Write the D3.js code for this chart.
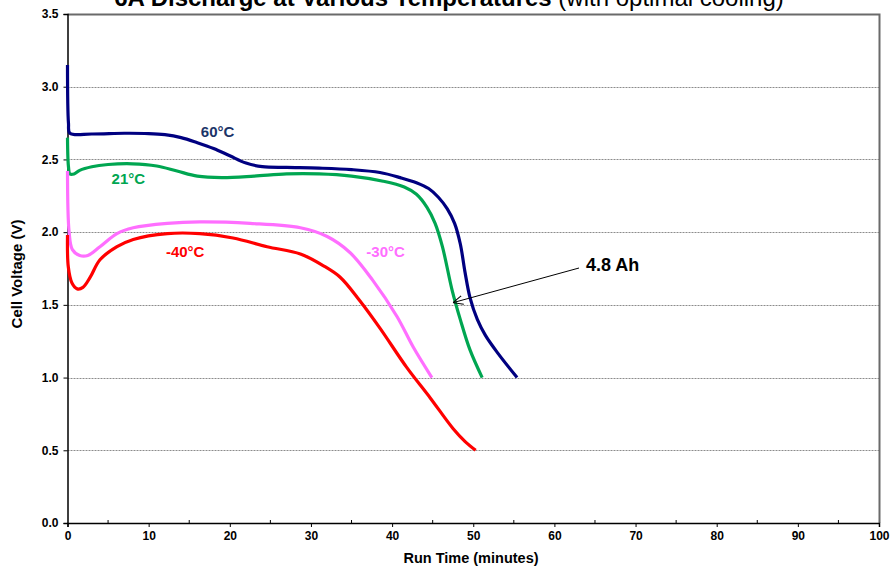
<!DOCTYPE html>
<html>
<head>
<meta charset="utf-8">
<script src="https://cdn.jsdelivr.net/npm/d3@7"></script>
<style>
  body { margin: 0; background: #fff; }
  svg { font-family: Arial, "Liberation Sans", sans-serif; }
</style>
</head>
<body>
<div id="chart"></div>
<script>
var width = 891,
    height = 571;

// run time (minutes) and cell voltage (V) for each temperature
var t60  = [0, 0.12, 0.3, 3, 7, 10, 12, 14, 16, 18, 20, 22, 24, 27, 31, 35, 38.5, 41, 43, 44.5, 45.7, 46.8, 47.7, 48.4, 49, 49.6, 50.5, 51.5, 53, 55.4];
var v60  = [3.15, 2.75, 2.68, 2.675, 2.68, 2.678, 2.67, 2.65, 2.615, 2.575, 2.525, 2.475, 2.45, 2.445, 2.44, 2.43, 2.41, 2.375, 2.34, 2.30, 2.24, 2.16, 2.06, 1.92, 1.72, 1.55, 1.40, 1.29, 1.17, 1.0];

var t21  = [0, 0.12, 0.3, 0.8, 1.5, 3, 5, 8, 11, 13.5, 16, 19, 23, 27, 31, 35, 38.9, 41.5, 43, 44.3, 45.3, 46.2, 47.4, 48.4, 49.6, 51.1];
var v21  = [2.65, 2.45, 2.40, 2.40, 2.425, 2.45, 2.465, 2.47, 2.455, 2.42, 2.385, 2.375, 2.385, 2.40, 2.40, 2.385, 2.35, 2.31, 2.26, 2.17, 2.06, 1.90, 1.60, 1.40, 1.19, 1.0];

var tm30 = [0, 0.2, 0.6, 1.5, 2.5, 4, 6.1, 8.1, 12.3, 16.3, 22.5, 28.7, 32, 34.8, 37.6, 40.6, 42.6, 44.9];
var vm30 = [2.42, 2.0, 1.88, 1.84, 1.84, 1.90, 1.99, 2.03, 2.06, 2.07, 2.06, 2.03, 1.97, 1.86, 1.67, 1.42, 1.21, 1.0];

var tm40 = [0, 0.1, 0.55, 1.2, 1.9, 2.8, 4, 6.1, 8.1, 12.3, 16.3, 20.4, 24.6, 28.7, 31.5, 33.6, 36, 38.5, 41.8, 44.7, 47.5, 49, 50.3];
var vm40 = [1.98, 1.76, 1.65, 1.61, 1.62, 1.69, 1.81, 1.90, 1.95, 1.99, 1.99, 1.96, 1.90, 1.85, 1.77, 1.69, 1.53, 1.34, 1.07, 0.86, 0.65, 0.56, 0.50];

var seriesNames = ["60°C", "21°C", "-30°C", "-40°C"];
var xTicks = [0, 10, 20, 30, 40, 50, 60, 70, 80, 90, 100];
var yTicks = [0, 0.5, 1.0, 1.5, 2.0, 2.5, 3.0, 3.5];

var series = [
  { name: seriesNames[0], t: t60,  v: v60,  color: "#000080", label: "#1b3468", lx: 18.5, ly: 2.655 },
  { name: seriesNames[1], t: t21,  v: v21,  color: "#00a651", label: "#00a651", lx: 7.5,  ly: 2.33 },
  { name: seriesNames[2], t: tm30, v: vm30, color: "#ff6eff", label: "#ff6eff", lx: 39.2, ly: 1.83 },
  { name: seriesNames[3], t: tm40, v: vm40, color: "#ff0000", label: "#ff0000", lx: 14.5, ly: 1.83 }
];

var margin = { left: 67.5, right: 12, top: 14, bottom: 48 };

var x = d3.scaleLinear().domain([0, 100]).range([margin.left, width - margin.right]);
var y = d3.scaleLinear().domain([0, 3.5]).range([height - margin.bottom, margin.top]);

var svg = d3.select("#chart").append("svg")
    .attr("width", width)
    .attr("height", height);

svg.append("defs").append("marker")
    .attr("id", "arrow")
    .attr("viewBox", "0 0 10 10")
    .attr("refX", 10).attr("refY", 5)
    .attr("markerWidth", 10).attr("markerHeight", 10)
    .attr("markerUnits", "userSpaceOnUse")
    .attr("orient", "auto")
  .append("path")
    .attr("d", "M0,0.5 L10,5 L0,9.5")
    .attr("fill", "none")
    .attr("stroke", "#000")
    .attr("stroke-width", 1);

// gridlines
svg.append("g").selectAll("line")
    .data(yTicks.slice(1, -1))
  .enter().append("line")
    .attr("x1", x(0)).attr("x2", x(100))
    .attr("y1", function(d) { return Math.round(y(d)) + 0.5; })
    .attr("y2", function(d) { return Math.round(y(d)) + 0.5; })
    .attr("stroke", "#8c8c8c")
    .attr("stroke-dasharray", "2,1");

// top and right border
svg.append("path")
    .attr("d", "M" + x(0) + "," + (y(3.5) + 0.5) + "H" + (x(100) + 0.5) + "V" + y(0))
    .attr("fill", "none")
    .attr("stroke", "#6a6a6a")
    .attr("stroke-width", 2);

// x axis
var xAxis = svg.append("g")
    .attr("transform", "translate(0," + y(0) + ")");
xAxis.selectAll(".minor")
    .data(d3.range(5, 100, 10))
  .enter().append("line")
    .attr("x1", function(d) { return x(d); }).attr("x2", function(d) { return x(d); })
    .attr("y1", -3).attr("y2", 0)
    .attr("stroke", "#000");
xAxis.call(d3.axisBottom(x).tickValues(xTicks).tickSize(4).tickPadding(4).tickFormat(d3.format("d")));

// y axis
var yAxis = svg.append("g")
    .attr("transform", "translate(" + x(0) + ",0)");
yAxis.call(d3.axisLeft(y).tickValues(yTicks).tickSize(4).tickPadding(5).tickFormat(d3.format(".1f")));

svg.selectAll(".domain").attr("stroke", "#000").attr("stroke-width", 1.5);
svg.selectAll(".tick text")
    .attr("font-size", 12)
    .attr("font-weight", "bold")
    .attr("font-family", "Arial, 'Liberation Sans', sans-serif")
    .attr("fill", "#000");

// curves
var line = d3.line()
    .x(function(d) { return x(d[0]); })
    .y(function(d) { return y(d[1]); })
    .curve(d3.curveCatmullRom.alpha(0.5));

svg.append("g").selectAll("path")
    .data(series)
  .enter().append("path")
    .attr("d", function(s) { return line(d3.zip(s.t, s.v)); })
    .attr("fill", "none")
    .attr("stroke", function(s) { return s.color; })
    .attr("stroke-width", 3.2)
    .attr("stroke-linejoin", "round");

svg.append("g").selectAll("text")
    .data(series)
  .enter().append("text")
    .attr("x", function(s) { return x(s.lx); })
    .attr("y", function(s) { return y(s.ly); })
    .attr("text-anchor", "middle")
    .attr("font-size", 15)
    .attr("font-weight", "bold")
    .attr("fill", function(s) { return s.label; })
    .text(function(s) { return s.name; });

// 4.8 Ah annotation
svg.append("line")
    .attr("x1", 579).attr("y1", 268)
    .attr("x2", x(47.5)).attr("y2", y(1.515))
    .attr("stroke", "#000")
    .attr("stroke-width", 1)
    .attr("marker-end", "url(#arrow)");
svg.append("text")
    .attr("x", 586).attr("y", 271)
    .attr("font-size", 18)
    .attr("font-weight", "bold")
    .text("4.8 Ah");

// axis titles
svg.append("text")
    .attr("transform", "translate(22,274) rotate(-90)")
    .attr("text-anchor", "middle")
    .attr("font-size", 15)
    .attr("font-weight", "bold")
    .text("Cell Voltage (V)");

svg.append("text")
    .attr("x", 471).attr("y", 563)
    .attr("text-anchor", "middle")
    .attr("font-size", 14.5)
    .attr("font-weight", "bold")
    .text("Run Time (minutes)");

// chart title (clipped at top)
var title = svg.append("text")
    .attr("x", 449).attr("y", 6)
    .attr("text-anchor", "middle")
    .attr("font-size", 24);
title.append("tspan").attr("font-weight", "bold").text("6A Discharge at Various Temperatures");
title.append("tspan").text(" (with optimal cooling)");
</script>
</body>
</html>
